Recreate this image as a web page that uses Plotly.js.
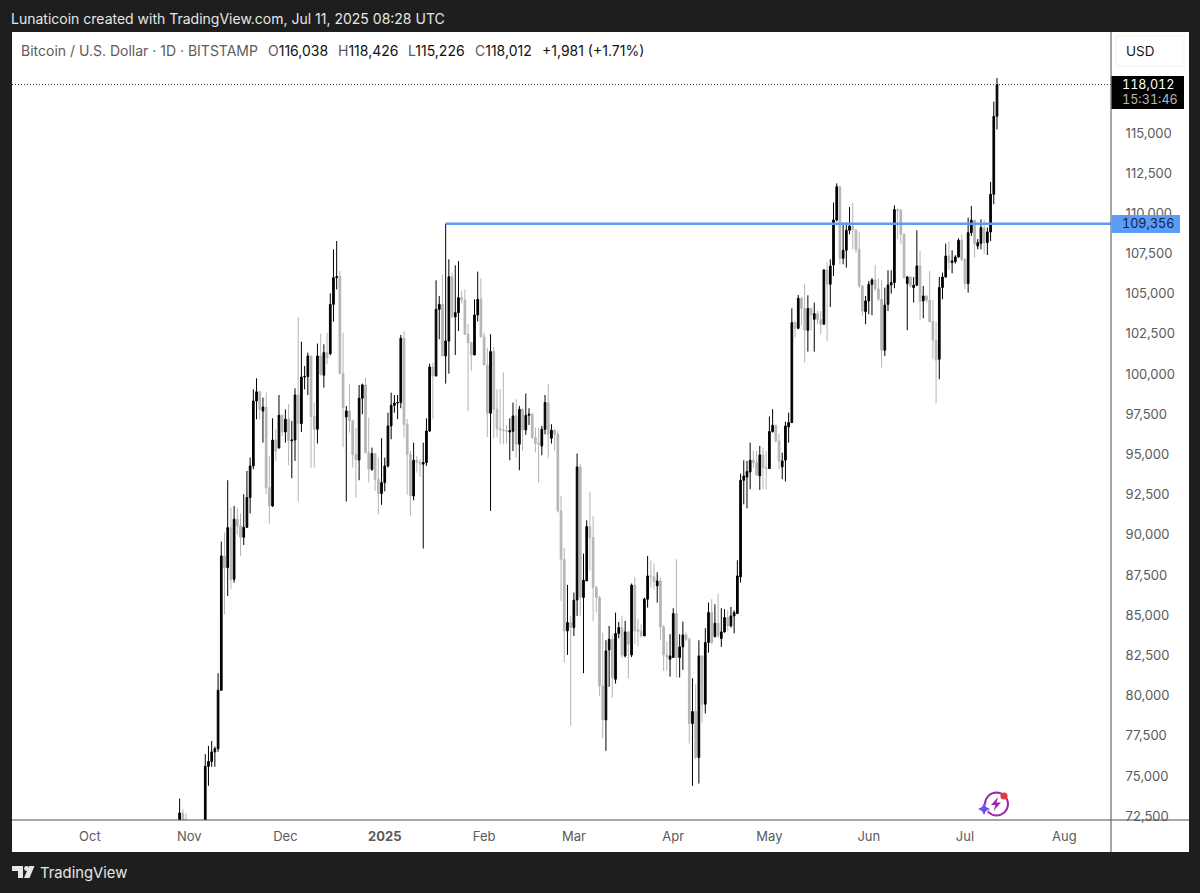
<!DOCTYPE html>
<html>
<head>
<meta charset="utf-8">
<script src="https://cdn.plot.ly/plotly-3.0.1.min.js"></script>
<style>html,body{margin:0;padding:0;background:#1e1e1e;overflow:hidden}#chart{width:1200px;height:893px}.ytick text{font-variant-numeric:tabular-nums}</style>
</head>
<body>
<div id="chart"></div>
<script>
var firstDay = '2024-10-29';
var opens = [
69900,72700,72300,
70250,69500,69300,68700,67800,69350,75600,75900,76500,76700,80335,88690,87960,90450,87238,90972,90560,89850,90470,92320,94290,98330,98900,97700,97950,92940,91800,95900,95400,97440,
96400,97190,95850,95900,98700,96920,99820,99850,101130,97360,96570,101130,99930,101340,101270,104340,106000,106100,100030,97340,97710,97100,95000,94660,98500,99330,95120,94080,95060,93460,92570,
93250,94290,96780,98060,98200,98230,102230,96880,95000,92420,94640,94500,94400,94500,96466,100446,99880,104030,104343,101130,102060,106060,103560,103825,104758,104615,102477,101960,101190,103680,104650,
102310,100570,97565,101400,97813,96600,96530,96480,96400,96440,97400,95640,97813,96530,97440,97500,96060,95700,95530,96570,98230,96010,96510,96260,91489,88483,84026,84544,
84233,85954,94225,86100,87135,90514,89830,86720,86100,80605,78490,82845,83500,81020,83860,84233,82470,83964,82533,86866,84100,84000,83715,85996,87446,87400,86828,87135,84275,82533,82264,
82367,85104,82367,83031,83777,83500,78263,79010,76148,82470,79465,83300,85166,83673,84503,83549,83964,84855,84337,84958,85104,87384,93396,93600,93916,94642,94500,93668,94974,94186,
94124,96425,96819,95845,94227,94643,96716,96984,103204,102851,104717,104100,102727,104075,103411,103763,103400,103100,106480,105588,106790,109588,111660,107205,107700,108946,109200,108970,107764,105484,103889,
104552,105589,105858,105300,104656,101484,104345,105547,105692,110232,110200,108700,105630,106045,105382,105527,106729,104552,104863,104600,103267,102106,100924,105382,106045,107351,106936,107000,107288,108325,
107144,105630,108802,109569,107973,108138,109113,108180,108843,111186,116038];
var highs = [
73600,72950,72650,
71600,69900,69400,69400,70500,76355,76873,77180,76830,81392,89580,90140,93400,91700,91800,91700,91325,92527,93978,94808,99050,99740,98950,98540,98850,94910,97250,96570,98700,97500,
97800,98120,97090,99120,103555,102020,100500,101340,101130,98230,101900,102520,101856,102580,105028,107760,108282,106416,102580,98020,99410,97150,96670,99326,99410,99780,97300,95430,95060,94800,96010,
94808,97600,98850,98700,98700,102440,102680,97200,95220,95740,94910,94700,95740,97250,100650,100715,105836,104860,106209,109356,107142,106313,106770,107030,105173,105276,103100,102000,104650,106375,105960,
102580,101650,102480,101690,99060,99060,100100,96840,97250,98230,98435,98020,97850,98790,97876,97600,96670,96670,96780,98700,99410,96880,96600,96450,92420,89200,86887,84960,
86410,95054,94400,88835,90910,92691,91178,86824,86200,83923,83445,84337,83818,85166,84585,84960,84648,84000,86970,87384,84751,84440,86100,88690,88420,88213,87675,87343,84399,83403,83818,
85436,88483,83818,84606,83923,83611,81082,80709,83445,82500,84192,85788,85995,85684,86348,85436,85374,85300,85518,85300,88420,93810,94640,94598,95740,95220,95220,95534,95430,95220,
97360,97820,96850,96300,95120,97047,97607,104095,103308,104924,104800,105629,104904,104136,104447,103930,103930,106520,106997,107143,110667,111869,111700,109423,109423,110397,110667,109000,108863,105550,104862,
105796,105962,106790,105962,105838,105382,106460,106460,110502,110300,110270,108750,106100,106045,106045,108947,107662,105485,104900,106418,104600,103267,106045,106314,108118,108242,107703,107400,108450,108698,
107200,109735,110460,109600,108400,109631,109631,109113,111953,116950,118426];
var lows = [
69700,71400,69700,
68800,68900,67500,66800,67500,68800,74385,75570,75570,76500,80300,85060,86200,86616,87030,90000,88690,89374,90450,91325,94080,97190,97190,95740,92520,90700,91740,94600,95390,96150,
95740,94330,93520,94600,92050,96400,99050,98700,94185,94185,95680,99900,99160,100610,101170,103265,105270,100000,95470,92070,96360,94190,92320,93400,97500,95060,93250,93980,92730,91283,91864,
92700,94185,95950,97600,97190,97880,96050,92500,91180,92150,93875,93600,89150,94290,96400,97190,99880,102167,101130,99410,100030,103500,101190,102685,104400,102435,97710,100200,101190,103270,102270,
100570,96090,91490,96000,96050,95640,95640,95680,94640,95220,94810,94020,95220,96220,96840,95950,95120,93250,94950,96260,94766,95680,95220,91390,85890,82057,82533,78118,
83715,84960,84960,81393,87135,87757,84648,85166,79984,77350,76563,80543,79880,80750,83570,82367,82367,81060,82400,83197,83093,83611,83715,85477,86720,86617,85788,83445,81538,81538,81186,
82367,81124,81124,81600,83400,77020,74387,76045,74530,78325,78885,82678,83197,83611,83611,83031,83922,84000,84233,83880,85104,87032,91900,91654,92840,94186,93668,92800,92840,92840,
94124,96363,95740,94083,93460,93316,95740,96984,102300,102790,103000,100716,101400,102727,101400,103100,102480,103100,102064,104178,106100,109500,106832,106832,106625,108700,107764,107557,105339,103620,103100,
103723,103660,105174,104552,100406,101131,103930,105008,105340,108387,108076,106000,102728,105382,104449,105485,103350,103474,104449,103205,100924,98188,99680,104656,106000,106522,106273,106874,107250,107000,
105278,105070,108595,107247,107766,107766,107455,107413,108284,110564,115226];
var closes = [
72700,72300,70250,
69500,69300,68700,67800,69350,75600,75900,76500,76700,80335,88690,87960,90450,87238,90972,90560,89850,90470,92320,94290,98330,98900,97810,97950,92940,91800,95900,95200,97440,96400,
97190,95850,95900,98700,96920,99820,99850,101130,97360,96570,101130,100000,101340,101000,104340,106000,106060,100030,97917,97710,97100,95000,94660,98500,99330,95120,94080,95060,93460,92570,93250,
94290,96780,98060,98200,98230,102230,96880,95000,92420,94640,94500,94400,94500,96466,100446,99880,104030,104343,101130,102060,106060,103560,103825,104758,104615,102477,101960,101190,103680,104650,102310,
100570,97565,101400,97813,96600,96530,96480,96450,96480,97400,95640,97813,96530,97440,97500,96060,95700,95640,96570,98230,96260,96510,96260,91489,88483,84026,84544,84233,
85933,94225,86140,87177,90514,89830,86720,86100,80605,78490,82782,83508,81124,83860,84233,82533,83964,83197,86866,84026,84000,83715,85996,87446,87400,87100,87135,84275,82533,82400,82470,
85104,82367,83031,83777,83500,78263,79010,76148,82470,79465,83300,85166,83300,84503,83715,83964,84855,84337,84958,85166,87446,93396,93660,93938,94642,94500,93730,94974,94186,94124,
96425,96819,95845,94600,94600,96777,96984,103204,102851,104717,104100,102727,104075,103680,103763,103400,103100,106480,105588,106728,109588,111660,107205,107700,108946,109215,108970,107764,105484,103930,104552,
105589,105858,105300,104656,101484,104303,105547,105692,110232,110170,108700,106000,106045,105500,105527,106729,104511,104863,104600,103267,102106,100862,105382,106045,107351,106936,107040,107288,108325,107144,
105630,108802,109569,108118,108180,109113,108180,108843,111186,116038,118012];

var levelStart = '2025-01-20';
var levelPrice = 109356;
var lastClose = 118012;
var priceTicks = [72500,75000,77500,80000,82500,85000,87500,90000,92500,95000,97500,100000,102500,105000,107500,110000,112500,115000];
var monthDates = ['2024-10-01','2024-11-01','2024-12-01','2025-01-01','2025-02-01','2025-03-01','2025-04-01','2025-05-01','2025-06-01','2025-07-01','2025-08-01'];
var monthLabels = ['Oct','Nov','Dec','<b>2025</b>','Feb','Mar','Apr','May','Jun','Jul','Aug'];
var xRange = ['2024-09-06 17:00','2025-08-15 13:40'];
var yRange = [72262,121283];

var dates = opens.map(function(_, i){
  var d = new Date(firstDay + 'T00:00:00Z');
  d.setUTCDate(d.getUTCDate() + i);
  return d.toISOString().slice(0,10);
});

var L=12, T=32, PW=1099, PH=788;
function px(x){return (x-L)/PW;}
function py(y){return (T+PH-y)/PH;}
function P(pts){return pts.map(function(p,i){return (i?'L':'M')+px(p[0])+','+py(p[1]);}).join(' ')+' Z';}
function rect(x0,y0,x1,y1,fill,layer,line){
  return {type:'rect',xref:'paper',yref:'paper',x0:px(x0),x1:px(x1),y0:py(y0),y1:py(y1),fillcolor:fill,layer:layer||'below',line:line||{width:0}};
}
function rline(x0,y0,x1,y1,c,w,layer){
  return {type:'line',xref:'paper',yref:'paper',x0:px(x0),x1:px(x1),y0:py(y0),y1:py(y1),layer:layer||'above',line:{color:c,width:w||1}};
}
function circ(cx,cy,r,fill,stroke,sw){
  return {type:'circle',xref:'paper',yref:'paper',x0:px(cx-r),x1:px(cx+r),y0:py(cy+r),y1:py(cy-r),fillcolor:fill,layer:'above',line:stroke?{color:stroke,width:sw}:{width:0}};
}
function poly(pts,fill){
  return {type:'path',xref:'paper',yref:'paper',path:P(pts),fillcolor:fill,layer:'above',line:{width:0}};
}
function label(x,y,text,size,color,anchor){
  return {xref:'paper',yref:'paper',x:px(x),y:py(y),text:text,showarrow:false,xanchor:anchor||'left',yanchor:'middle',
    font:{family:'Inter, Roboto, sans-serif',size:size,color:color},borderpad:0,borderwidth:0};
}
function tnum(s){return '<span style="font-variant-numeric:tabular-nums">'+s+'</span>';}
var SEP='#4f4f4f', LEG='#5c5c5c';

var shapes=[
  rect(12,32,1189,852,'#ffffff','below'),
  rline(1111,32,1111,852,SEP,1),
  rline(12,820,1189,820,SEP,1),
  {type:'line',xref:'paper',yref:'y',x0:0,x1:1,y0:lastClose,y1:lastClose,layer:'above',line:{color:'#333333',width:1,dash:'1px,2px'}},
  rect(1116,36,1184,66,'#ffffff','below',{color:'#f1f1f1',width:1}),
  rect(1111.5,76,1184,109,'#000000','above'),
  rect(1111.5,215,1180,233,'#5b9cf6','above'),
  circ(996.5,804,11.5,'rgba(255,255,255,0)','#9c27b0',2),
  poly([[998,797],[991,805],[995.5,805],[993.5,811],[1001,802.5],[996.5,802.5]],'#9c27b0'),
  circ(984,809,4.5,'#ffffff'),
  poly([[984,803],[986,807],[990,809],[986,811],[984,815],[982,811],[978,809],[982,807]],'#6c4df6'),
  circ(1004,796,3.6,'#e53935'),
  poly([[12,866],[23,866],[23,878],[18,878],[18,871],[12,871]],'#e6e6e6'),
  circ(26.5,868.5,2.4,'#e6e6e6'),
  poly([[29,866],[34.5,866],[29.5,878],[24,878]],'#e6e6e6')
];

var annotations=[
  label(11,18,'Lunaticoin created with TradingView.com, Jul 11, 2025 08:28 UTC',14,'#e6e6e6'),
  label(21,50,'Bitcoin / U.S. Dollar · 1D · BITSTAMP',14,LEG),
  label(268,50,'O<span style="color:#111">116,038</span>',14,LEG),
  label(338,50,'H<span style="color:#111">118,426</span>',14,LEG),
  label(408,50,'L<span style="color:#111">115,226</span>',14,LEG),
  label(475,50,'C<span style="color:#111">118,012</span>',14,LEG),
  label(542,50,'+1,981 (+1.71%)',14,'#111111'),
  label(1126,51.5,'USD',13.5,'#131722'),
  label(1122,84.5,tnum('118,012'),12.6,'#ffffff'),
  label(1122,99,tnum('15:31:46'),12.6,'#b8b8b8'),
  label(1122,224,tnum('109,356'),12.6,'#10233f'),
  label(40,873,'TradingView',14.8,'#e6e6e6')
];

var candles={
  type:'candlestick',x:dates,open:opens,high:highs,low:lows,close:closes,
  increasing:{line:{color:'#000000',width:1},fillcolor:'#000000'},
  decreasing:{line:{color:'#b5b5b5',width:1},fillcolor:'#b5b5b5'},
  whiskerwidth:0,hoverinfo:'skip',showlegend:false,name:'BTCUSD'
};
var levelLine={
  type:'scatter',mode:'lines',x:[levelStart,xRange[1]],y:[levelPrice,levelPrice],
  line:{color:'#5b9cf6',width:2.5},hoverinfo:'skip',showlegend:false,name:'level'
};

var layout={
  width:1200,height:893,autosize:false,
  margin:{l:L,r:1200-L-PW,t:T,b:893-T-PH,pad:0},
  paper_bgcolor:'#1e1e1e',plot_bgcolor:'#ffffff',
  showlegend:false,dragmode:false,
  font:{family:'Inter, Roboto, sans-serif',size:13,color:'#555555'},
  boxgap:0.25,
  xaxis:{type:'date',range:xRange,rangeslider:{visible:false},showgrid:false,zeroline:false,showline:false,
    tickmode:'array',tickvals:monthDates,ticktext:monthLabels,ticks:'outside',ticklen:4,tickcolor:'rgba(0,0,0,0)',
    tickangle:0,tickfont:{family:'Inter, Roboto, sans-serif',size:13,color:'#5a5a5a'}},
  yaxis:{side:'right',range:yRange,showgrid:false,zeroline:false,showline:false,
    tickmode:'array',tickvals:priceTicks,ticktext:priceTicks.map(function(v){return v.toLocaleString('en-US');}),
    ticks:'outside',ticklen:11,tickcolor:'rgba(0,0,0,0)',
    tickfont:{family:'Inter, Roboto, sans-serif',size:13,color:'#5a5a5a'}},
  shapes:shapes,annotations:annotations
};
Plotly.newPlot('chart',[candles,levelLine],layout,{displayModeBar:false,staticPlot:true});
</script>
</body>
</html>
